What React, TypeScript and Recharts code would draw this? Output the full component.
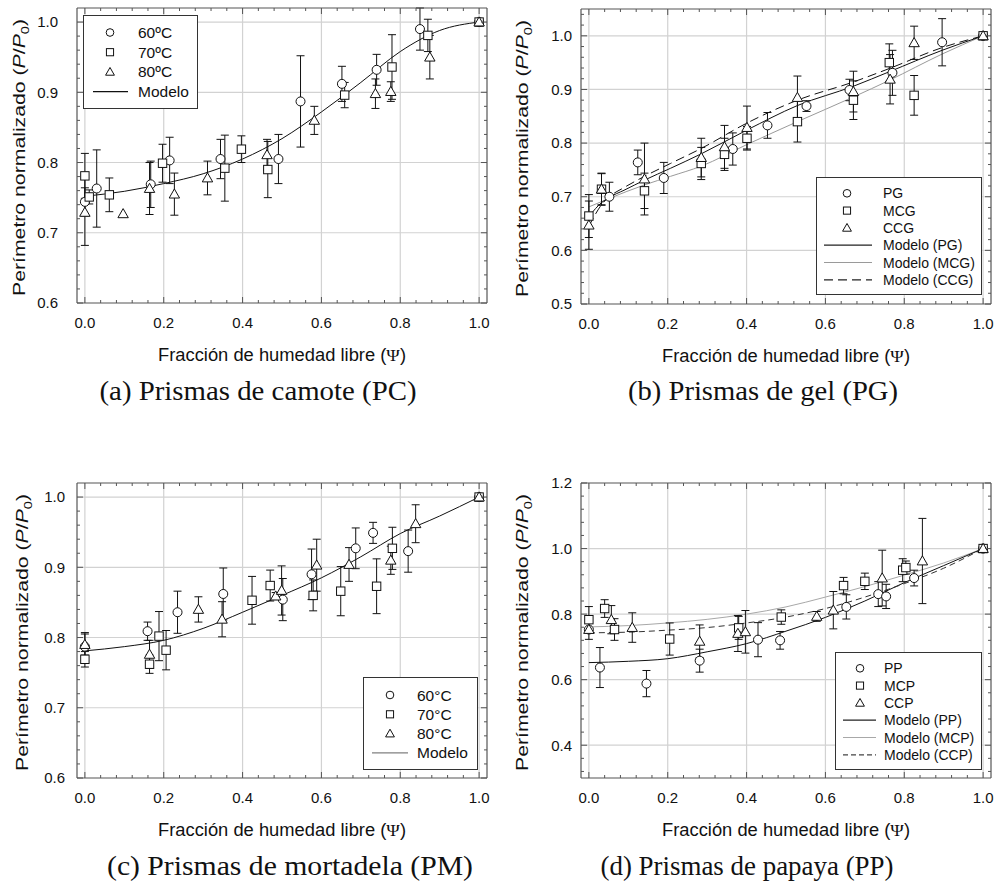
import React from 'react'
import {
  ComposedChart,
  Scatter,
  Line,
  XAxis,
  YAxis,
  CartesianGrid,
  ErrorBar,
  Legend,
  Label,
} from 'recharts'

interface Pt { x: number; y: number; e?: number }
type Mark = 'circle' | 'square' | 'triangle'

const FONT = '"Liberation Sans", Arial, Helvetica, sans-serif'
const SERIF = '"Liberation Serif", "Times New Roman", serif'
const INK = '#111'
const FRAME = '#555'
const GRID = '#d2d2d2'

// axis ticks (minor + major) and grid values
const xTicks = [0, 0.04, 0.08, 0.12, 0.16, 0.2, 0.24, 0.28, 0.32, 0.36, 0.4, 0.44, 0.48, 0.52, 0.56, 0.6, 0.64, 0.68, 0.72, 0.76, 0.8, 0.84, 0.88, 0.92, 0.96, 1.0]
const xGrid = [0, 0.2, 0.4, 0.6, 0.8, 1.0]
const yTicks06 = [0.6, 0.62, 0.64, 0.66, 0.68, 0.7, 0.72, 0.74, 0.76, 0.78, 0.8, 0.82, 0.84, 0.86, 0.88, 0.9, 0.92, 0.94, 0.96, 0.98, 1.0]
const yGrid06 = [0.7, 0.8, 0.9, 1.0]
const yTicks05 = [0.5, 0.52, 0.54, 0.56, 0.58, 0.6, 0.62, 0.64, 0.66, 0.68, 0.7, 0.72, 0.74, 0.76, 0.78, 0.8, 0.82, 0.84, 0.86, 0.88, 0.9, 0.92, 0.94, 0.96, 0.98, 1.0, 1.02, 1.04]
const yGrid05 = [0.6, 0.7, 0.8, 0.9, 1.0]
const yTicks03 = [0.32, 0.36, 0.4, 0.44, 0.48, 0.52, 0.56, 0.6, 0.64, 0.68, 0.72, 0.76, 0.8, 0.84, 0.88, 0.92, 0.96, 1.0, 1.04, 1.08, 1.12, 1.16, 1.2]
const yGrid03 = [0.4, 0.6, 0.8, 1.0]

// (a) camote
const pc60: Pt[] = [
  { x: 0, y: 0.744, e: 0.02 }, { x: 0.03, y: 0.763, e: 0.055 }, { x: 0.167, y: 0.769, e: 0.033 },
  { x: 0.215, y: 0.803, e: 0.033 }, { x: 0.344, y: 0.805, e: 0.028 }, { x: 0.491, y: 0.805, e: 0.035 },
  { x: 0.547, y: 0.887, e: 0.065 }, { x: 0.652, y: 0.912, e: 0.025 }, { x: 0.74, y: 0.932, e: 0.022 },
  { x: 0.85, y: 0.99, e: 0.03 }, { x: 1, y: 1 },
]
const pc70: Pt[] = [
  { x: 0, y: 0.781, e: 0.032 }, { x: 0.011, y: 0.751, e: 0.01 }, { x: 0.062, y: 0.754, e: 0.024 },
  { x: 0.197, y: 0.799, e: 0.027 }, { x: 0.355, y: 0.792, e: 0.047 }, { x: 0.397, y: 0.819, e: 0.019 },
  { x: 0.464, y: 0.79, e: 0.04 }, { x: 0.659, y: 0.896, e: 0.018 }, { x: 0.779, y: 0.936, e: 0.046 },
  { x: 0.87, y: 0.981, e: 0.023 }, { x: 1, y: 1 },
]
const pc80: Pt[] = [
  { x: 0, y: 0.729, e: 0.047 }, { x: 0.097, y: 0.727 }, { x: 0.164, y: 0.763, e: 0.037 },
  { x: 0.227, y: 0.755, e: 0.03 }, { x: 0.311, y: 0.778, e: 0.024 }, { x: 0.462, y: 0.811, e: 0.022 },
  { x: 0.582, y: 0.86, e: 0.02 }, { x: 0.737, y: 0.898, e: 0.021 }, { x: 0.776, y: 0.901, e: 0.014 },
  { x: 0.875, y: 0.95, e: 0.031 }, { x: 1, y: 1 },
]
const pcModel: Pt[] = [
  { x: 0, y: 0.752 }, { x: 0.1, y: 0.759 }, { x: 0.2, y: 0.77 }, { x: 0.3, y: 0.784 }, { x: 0.4, y: 0.805 },
  { x: 0.5, y: 0.834 }, { x: 0.6, y: 0.872 }, { x: 0.7, y: 0.914 }, { x: 0.8, y: 0.958 }, { x: 0.9, y: 0.988 }, { x: 1, y: 1 },
]

// (b) gel
const pgPts: Pt[] = [
  { x: 0.052, y: 0.7, e: 0.027 }, { x: 0.124, y: 0.764, e: 0.023 }, { x: 0.19, y: 0.735, e: 0.029 },
  { x: 0.365, y: 0.789, e: 0.03 }, { x: 0.453, y: 0.833, e: 0.024 }, { x: 0.552, y: 0.869, e: 0.01 },
  { x: 0.661, y: 0.899, e: 0.02 }, { x: 0.77, y: 0.931, e: 0.042 }, { x: 0.896, y: 0.988, e: 0.044 }, { x: 1, y: 1 },
]
const mcgPts: Pt[] = [
  { x: 0, y: 0.664, e: 0.04 }, { x: 0.032, y: 0.714, e: 0.03 }, { x: 0.141, y: 0.711, e: 0.033 },
  { x: 0.285, y: 0.762, e: 0.03 }, { x: 0.344, y: 0.779, e: 0.03 }, { x: 0.401, y: 0.809, e: 0.022 },
  { x: 0.529, y: 0.84, e: 0.038 }, { x: 0.671, y: 0.88, e: 0.036 }, { x: 0.762, y: 0.95, e: 0.035 },
  { x: 0.825, y: 0.889, e: 0.037 }, { x: 1, y: 1 },
]
const ccgPts: Pt[] = [
  { x: 0, y: 0.647, e: 0.045 }, { x: 0.032, y: 0.714, e: 0.029 }, { x: 0.141, y: 0.733, e: 0.067 },
  { x: 0.285, y: 0.773, e: 0.036 }, { x: 0.344, y: 0.793, e: 0.04 }, { x: 0.401, y: 0.829, e: 0.04 },
  { x: 0.529, y: 0.885, e: 0.04 }, { x: 0.671, y: 0.896, e: 0.038 }, { x: 0.764, y: 0.919, e: 0.046 },
  { x: 0.825, y: 0.987, e: 0.031 }, { x: 1, y: 1 },
]
const pgModel: Pt[] = [
  { x: 0, y: 0.663 }, { x: 0.017, y: 0.678 }, { x: 0.032, y: 0.689 }, { x: 0.052, y: 0.699 }, { x: 0.089, y: 0.712 },
  { x: 0.141, y: 0.731 }, { x: 0.207, y: 0.753 }, { x: 0.285, y: 0.78 }, { x: 0.4, y: 0.824 }, { x: 0.529, y: 0.87 },
  { x: 0.671, y: 0.906 }, { x: 0.762, y: 0.933 }, { x: 0.896, y: 0.973 }, { x: 1, y: 1 },
]
const mcgModel: Pt[] = [
  { x: 0, y: 0.681 }, { x: 0.052, y: 0.697 }, { x: 0.141, y: 0.722 }, { x: 0.207, y: 0.738 }, { x: 0.285, y: 0.757 },
  { x: 0.4, y: 0.797 }, { x: 0.529, y: 0.84 }, { x: 0.671, y: 0.886 }, { x: 0.762, y: 0.917 }, { x: 0.896, y: 0.966 }, { x: 1, y: 1 },
]
const ccgModel: Pt[] = [
  { x: 0, y: 0.645 }, { x: 0.017, y: 0.668 }, { x: 0.032, y: 0.685 }, { x: 0.052, y: 0.7 }, { x: 0.089, y: 0.717 },
  { x: 0.141, y: 0.738 }, { x: 0.207, y: 0.762 }, { x: 0.285, y: 0.79 }, { x: 0.4, y: 0.837 }, { x: 0.529, y: 0.88 },
  { x: 0.671, y: 0.914 }, { x: 0.762, y: 0.939 }, { x: 0.896, y: 0.978 }, { x: 1, y: 1 },
]

// (c) mortadela
const pm60: Pt[] = [
  { x: 0, y: 0.787, e: 0.02 }, { x: 0.159, y: 0.809, e: 0.013 }, { x: 0.235, y: 0.836, e: 0.03 },
  { x: 0.351, y: 0.862, e: 0.037 }, { x: 0.502, y: 0.854, e: 0.03 }, { x: 0.575, y: 0.89, e: 0.036 },
  { x: 0.687, y: 0.927, e: 0.029 }, { x: 0.731, y: 0.949, e: 0.015 }, { x: 0.82, y: 0.923, e: 0.03 }, { x: 1, y: 1 },
]
const pm70: Pt[] = [
  { x: 0, y: 0.769, e: 0.011 }, { x: 0.164, y: 0.762, e: 0.013 }, { x: 0.188, y: 0.802, e: 0.035 },
  { x: 0.206, y: 0.782, e: 0.028 }, { x: 0.424, y: 0.853, e: 0.034 }, { x: 0.47, y: 0.874, e: 0.022 },
  { x: 0.579, y: 0.86, e: 0.022 }, { x: 0.649, y: 0.866, e: 0.035 }, { x: 0.74, y: 0.873, e: 0.039 },
  { x: 0.78, y: 0.927, e: 0.03 }, { x: 1, y: 1 },
]
const pm80: Pt[] = [
  { x: 0, y: 0.79, e: 0.015 }, { x: 0.164, y: 0.776, e: 0.02 }, { x: 0.288, y: 0.84, e: 0.018 },
  { x: 0.348, y: 0.826, e: 0.025 }, { x: 0.484, y: 0.859, e: 0.005 }, { x: 0.499, y: 0.867, e: 0.035 },
  { x: 0.588, y: 0.903, e: 0.037 }, { x: 0.67, y: 0.904, e: 0.024 }, { x: 0.776, y: 0.91, e: 0.02 },
  { x: 0.839, y: 0.962, e: 0.027 }, { x: 1, y: 1 },
]
const pmModel: Pt[] = [
  { x: 0, y: 0.781 }, { x: 0.1, y: 0.787 }, { x: 0.2, y: 0.796 }, { x: 0.3, y: 0.813 }, { x: 0.4, y: 0.836 },
  { x: 0.5, y: 0.86 }, { x: 0.6, y: 0.885 }, { x: 0.7, y: 0.915 }, { x: 0.8, y: 0.948 }, { x: 0.9, y: 0.973 }, { x: 1, y: 1 },
]

// (d) papaya
const ppPts: Pt[] = [
  { x: 0, y: 0.753 }, { x: 0.028, y: 0.637, e: 0.061 }, { x: 0.146, y: 0.588, e: 0.04 },
  { x: 0.281, y: 0.658, e: 0.035 }, { x: 0.429, y: 0.722, e: 0.052 }, { x: 0.485, y: 0.72, e: 0.027 },
  { x: 0.653, y: 0.822, e: 0.037 }, { x: 0.734, y: 0.861, e: 0.038 }, { x: 0.754, y: 0.854, e: 0.037 },
  { x: 0.825, y: 0.91, e: 0.024 }, { x: 1, y: 1 },
]
const mcpPts: Pt[] = [
  { x: 0, y: 0.783, e: 0.04 }, { x: 0.04, y: 0.817, e: 0.027 }, { x: 0.065, y: 0.753, e: 0.033 },
  { x: 0.205, y: 0.724, e: 0.049 }, { x: 0.38, y: 0.758, e: 0.035 }, { x: 0.488, y: 0.791, e: 0.022 },
  { x: 0.646, y: 0.887, e: 0.025 }, { x: 0.7, y: 0.9, e: 0.025 }, { x: 0.796, y: 0.934, e: 0.035 },
  { x: 0.804, y: 0.942, e: 0.02 }, { x: 1, y: 1 },
]
const ccpPts: Pt[] = [
  { x: 0, y: 0.753, e: 0.03 }, { x: 0.057, y: 0.783, e: 0.043 }, { x: 0.11, y: 0.759, e: 0.045 },
  { x: 0.281, y: 0.717, e: 0.05 }, { x: 0.378, y: 0.741, e: 0.055 }, { x: 0.397, y: 0.746, e: 0.065 },
  { x: 0.578, y: 0.793, e: 0.015 }, { x: 0.62, y: 0.812, e: 0.057 }, { x: 0.744, y: 0.91, e: 0.085 },
  { x: 0.846, y: 0.962, e: 0.13 }, { x: 1, y: 1 },
]
const ppModel: Pt[] = [
  { x: 0, y: 0.652 }, { x: 0.1, y: 0.656 }, { x: 0.2, y: 0.664 }, { x: 0.3, y: 0.685 }, { x: 0.4, y: 0.71 },
  { x: 0.5, y: 0.748 }, { x: 0.6, y: 0.79 }, { x: 0.7, y: 0.84 }, { x: 0.8, y: 0.896 }, { x: 0.9, y: 0.948 }, { x: 1, y: 1 },
]
const mcpModel: Pt[] = [
  { x: 0, y: 0.761 }, { x: 0.1, y: 0.765 }, { x: 0.2, y: 0.773 }, { x: 0.3, y: 0.784 }, { x: 0.4, y: 0.8 },
  { x: 0.5, y: 0.822 }, { x: 0.6, y: 0.852 }, { x: 0.7, y: 0.884 }, { x: 0.8, y: 0.919 }, { x: 0.9, y: 0.956 }, { x: 1, y: 1 },
]
const ccpModel: Pt[] = [
  { x: 0, y: 0.743 }, { x: 0.1, y: 0.745 }, { x: 0.2, y: 0.751 }, { x: 0.3, y: 0.759 }, { x: 0.4, y: 0.773 },
  { x: 0.5, y: 0.791 }, { x: 0.6, y: 0.817 }, { x: 0.7, y: 0.852 }, { x: 0.8, y: 0.893 }, { x: 0.9, y: 0.94 }, { x: 1, y: 1 },
]

// legend labels and captions
const pcLabels = ['60ºC', '70ºC', '80ºC', 'Modelo']
const pgLabels = ['PG', 'MCG', 'CCG', 'Modelo (PG)', 'Modelo (MCG)', 'Modelo (CCG)']
const pmLabels = ['60°C', '70°C', '80°C', 'Modelo']
const ppLabels = ['PP', 'MCP', 'CCP', 'Modelo (PP)', 'Modelo (MCP)', 'Modelo (CCP)']
const captions = ['(a) Prismas de camote (PC)', '(b) Prismas de gel (PG)', '(c) Prismas de mortadela (PM)', '(d) Prismas de papaya (PP)']

const Marker = ({ kind, cx, cy, s = 1 }: { kind: Mark; cx: number; cy: number; s?: number }) => {
  if (kind === 'circle') return <circle cx={cx} cy={cy} r={4.5 * s} fill="#fff" stroke={INK} strokeWidth={1} />
  if (kind === 'square') {
    const h = 4.2 * s
    return <rect x={cx - h} y={cy - h} width={2 * h} height={2 * h} fill="#fff" stroke={INK} strokeWidth={1} />
  }
  const r = 5.2 * s
  return (
    <polygon
      points={`${cx},${cy - r} ${cx + r},${cy + r * 0.75} ${cx - r},${cy + r * 0.75}`}
      fill="#fff"
      stroke={INK}
      strokeWidth={1}
    />
  )
}

const shapes: Record<Mark, (p: any) => React.ReactElement> = {
  circle: (p: any) => <Marker kind="circle" cx={p.cx} cy={p.cy} />,
  square: (p: any) => <Marker kind="square" cx={p.cx} cy={p.cy} />,
  triangle: (p: any) => <Marker kind="triangle" cx={p.cx} cy={p.cy} />,
}

const isMajor = (v: number, step: number) => Math.abs(v / step - Math.round(v / step)) < 1e-6

type Side = 'bottom' | 'top' | 'left' | 'right'
const tickFor = (side: Side, step: number, gap = 0) => {
  const TickMark = (p: any) => {
    const v = Number(p.payload.value)
    const major = isMajor(v, step)
    const len = major ? 6 : 3
    const { x, y } = p
    const x2 = side === 'left' ? x + len : side === 'right' ? x - len : x
    const y2 = side === 'bottom' ? y - len : side === 'top' ? y + len : y
    return (
      <g>
        <line x1={x} y1={y} x2={x2} y2={y2} stroke={FRAME} strokeWidth={1} />
        {major && side === 'bottom' && (
          <text x={x} y={y + 25} textAnchor="middle" fontSize={15} fill={INK}>{v.toFixed(1)}</text>
        )}
        {major && side === 'left' && (
          <text x={x - gap} y={y} dy="0.36em" textAnchor="end" fontSize={15} fill={INK}>{v.toFixed(1)}</text>
        )}
      </g>
    )
  }
  return TickMark
}

const XTitle = (p: any) => {
  const { x, y, width } = p.viewBox
  return (
    <text x={x + width / 2} y={y + 58} textAnchor="middle" fontSize={17.5} fill={INK} textLength={248} lengthAdjust="spacingAndGlyphs">
      Fracción de humedad libre (<tspan fontFamily={SERIF}>Ψ</tspan>)
    </text>
  )
}

const yTitleFor = (off: number) => {
  const YTitle = (p: any) => {
    const { x, y, width, height } = p.viewBox
    return (
      <text
        transform={`translate(${x + width - off},${y + height / 2 + 2}) rotate(-90)`}
        textAnchor="middle"
        fontSize={16}
        fill={INK}
        textLength={277}
        lengthAdjust="spacingAndGlyphs"
      >
        Perímetro normalizado (<tspan fontStyle="italic">P</tspan>/<tspan fontStyle="italic">P</tspan>
        <tspan fontSize={11} dy={4}>0</tspan>
        <tspan dy={-4}>)</tspan>
      </text>
    )
  }
  return YTitle
}

interface LegendItem { label: string; mark?: Mark; stroke?: string; dash?: string }
interface LegendCfg {
  left: number; top: number; w: number; h: number
  y0: number; dy: number; symX: number; lx1: number; lx2: number; textX: number; fs: number
  items: LegendItem[]
}

const LegendBox = ({ lg }: { lg: LegendCfg }) => (
  <svg width={lg.w} height={lg.h} style={{ display: 'block', fontFamily: FONT }}>
    <rect x={0.5} y={0.5} width={lg.w - 1} height={lg.h - 1} fill="#fff" stroke="#333" strokeWidth={1} />
    {lg.items.map((it, i) => {
      const cy = lg.y0 + i * lg.dy
      return (
        <g key={it.label}>
          {it.mark ? (
            <Marker kind={it.mark} cx={lg.symX} cy={cy} s={0.85} />
          ) : (
            <line x1={lg.lx1} x2={lg.lx2} y1={cy} y2={cy} stroke={it.stroke} strokeWidth={1.2} strokeDasharray={it.dash} />
          )}
          <text x={lg.textX} y={cy} dy="0.36em" fontSize={lg.fs} fill={INK}>{it.label}</text>
        </g>
      )
    })}
  </svg>
)

interface SeriesCfg { data: Pt[]; mark: Mark }
interface ModelCfg { data: Pt[]; stroke: string; dash?: string }
interface PanelCfg {
  left: number; top: number
  margin: { top: number; right: number; bottom: number; left: number }
  yDomain: [number, number]; yTicks: number[]; yGrid: number[]; yStep: number
  labelGap: number; titleOff: number
  series: SeriesCfg[]; models: ModelCfg[]; legend: LegendCfg
}

const W = 499
const H = 372

// every axis gets a 1px band (Recharts skips axes of zero size); margins are 1px smaller to compensate
const Panel = ({ cfg }: { cfg: PanelCfg }) => (
  <div style={{ position: 'absolute', left: cfg.left, top: cfg.top }}>
    <ComposedChart width={W} height={H} margin={cfg.margin}>
      <CartesianGrid xAxisId="b" yAxisId="l" stroke={GRID} strokeWidth={1.2} verticalValues={xGrid} horizontalValues={cfg.yGrid} />
      {cfg.models.map((m, i) => (
        <Line
          key={'m' + i} xAxisId="b" yAxisId="l" data={m.data} dataKey="y" type="monotone"
          stroke={m.stroke} strokeWidth={1} strokeDasharray={m.dash} dot={false} activeDot={false}
          isAnimationActive={false} legendType="none"
        />
      ))}
      {cfg.series.map((s, i) => (
        <Scatter
          key={'s' + i} xAxisId="b" yAxisId="l" data={s.data} shape={shapes[s.mark]}
          isAnimationActive={false} legendType="none"
        >
          <ErrorBar dataKey="e" direction="y" width={4} stroke={INK} strokeWidth={1} isAnimationActive={false} />
        </Scatter>
      ))}
      <XAxis
        xAxisId="b" type="number" dataKey="x" domain={[-0.02, 1.02]} allowDataOverflow
        ticks={xTicks} interval={0} height={1} tickSize={0} tickMargin={0} tickLine={false}
        axisLine={{ stroke: FRAME, strokeWidth: 1.2 }} tick={tickFor('bottom', 0.2)}
      >
        <Label content={XTitle} />
      </XAxis>
      <XAxis
        xAxisId="t" orientation="top" type="number" dataKey="x" domain={[-0.02, 1.02]} allowDataOverflow
        ticks={xTicks} interval={0} height={1} tickSize={0} tickMargin={0} tickLine={false}
        axisLine={{ stroke: FRAME, strokeWidth: 1.2 }} tick={tickFor('top', 0.2)}
      />
      <YAxis
        yAxisId="l" type="number" dataKey="y" domain={cfg.yDomain} allowDataOverflow
        ticks={cfg.yTicks} interval={0} width={1} tickSize={0} tickMargin={0} tickLine={false}
        axisLine={{ stroke: FRAME, strokeWidth: 1.2 }} tick={tickFor('left', cfg.yStep, cfg.labelGap)}
      >
        <Label content={yTitleFor(cfg.titleOff)} />
      </YAxis>
      <YAxis
        yAxisId="r" orientation="right" type="number" dataKey="y" domain={cfg.yDomain} allowDataOverflow
        ticks={cfg.yTicks} interval={0} width={1} tickSize={0} tickMargin={0} tickLine={false}
        axisLine={{ stroke: FRAME, strokeWidth: 1.2 }} tick={tickFor('right', cfg.yStep)}
      />
      <Legend
        layout="vertical" align="center" verticalAlign="middle"
        wrapperStyle={{ left: cfg.legend.left, top: cfg.legend.top, width: cfg.legend.w, height: cfg.legend.h }}
        content={() => <LegendBox lg={cfg.legend} />}
      />
    </ComposedChart>
  </div>
)

const marks: Mark[] = ['circle', 'square', 'triangle']

const panels: PanelCfg[] = [
  {
    left: 0, top: 0, margin: { top: 7, right: 11, bottom: 68, left: 76 },
    yDomain: [0.6, 1.02], yTicks: yTicks06, yGrid: yGrid06, yStep: 0.1, labelGap: 19, titleOff: 52,
    series: [pc60, pc70, pc80].map((d, i) => ({ data: d, mark: marks[i] })),
    models: [{ data: pcModel, stroke: '#111' }],
    legend: {
      left: 83, top: 15, w: 115, h: 94, y0: 17.5, dy: 19.7, symX: 27, lx1: 10, lx2: 45, textX: 55, fs: 15.5,
      items: [
        { label: pcLabels[0], mark: 'circle' }, { label: pcLabels[1], mark: 'square' },
        { label: pcLabels[2], mark: 'triangle' }, { label: pcLabels[3], stroke: '#111' },
      ],
    },
  },
  {
    left: 499, top: 0, margin: { top: 8, right: 6, bottom: 67, left: 81 },
    yDomain: [0.5, 1.05], yTicks: yTicks05, yGrid: yGrid05, yStep: 0.1, labelGap: 9, titleOff: 53,
    series: [pgPts, mcgPts, ccgPts].map((d, i) => ({ data: d, mark: marks[i] })),
    models: [
      { data: mcgModel, stroke: '#9a9a9a' },
      { data: pgModel, stroke: '#111' },
      { data: ccgModel, stroke: '#111', dash: '9 5' },
    ],
    legend: {
      left: 317, top: 177, w: 166, h: 118, y0: 16.3, dy: 17.3, symX: 31, lx1: 8, lx2: 56, textX: 67, fs: 14,
      items: [
        { label: pgLabels[0], mark: 'circle' }, { label: pgLabels[1], mark: 'square' },
        { label: pgLabels[2], mark: 'triangle' }, { label: pgLabels[3], stroke: '#222' },
        { label: pgLabels[4], stroke: '#9a9a9a' }, { label: pgLabels[5], stroke: '#222', dash: '9 5' },
      ],
    },
  },
  {
    left: 0, top: 475, margin: { top: 7, right: 11, bottom: 68, left: 76 },
    yDomain: [0.6, 1.02], yTicks: yTicks06, yGrid: yGrid06, yStep: 0.1, labelGap: 12, titleOff: 49,
    series: [pm60, pm70, pm80].map((d, i) => ({ data: d, mark: marks[i] })),
    models: [{ data: pmModel, stroke: '#111' }],
    legend: {
      left: 363, top: 202, w: 115, h: 93, y0: 18, dy: 19.3, symX: 27, lx1: 9, lx2: 45, textX: 54, fs: 15.5,
      items: [
        { label: pmLabels[0], mark: 'circle' }, { label: pmLabels[1], mark: 'square' },
        { label: pmLabels[2], mark: 'triangle' }, { label: pmLabels[3], stroke: '#808080' },
      ],
    },
  },
  {
    left: 499, top: 475, margin: { top: 7, right: 6, bottom: 68, left: 81 },
    yDomain: [0.3, 1.2], yTicks: yTicks03, yGrid: yGrid03, yStep: 0.2, labelGap: 9, titleOff: 53,
    series: [ppPts, mcpPts, ccpPts].map((d, i) => ({ data: d, mark: marks[i] })),
    models: [
      { data: mcpModel, stroke: '#a8a8a8' },
      { data: ppModel, stroke: '#111' },
      { data: ccpModel, stroke: '#333', dash: '6 4' },
    ],
    legend: {
      left: 336, top: 177, w: 147, h: 118, y0: 16.3, dy: 17.3, symX: 25, lx1: 8, lx2: 41, textX: 49, fs: 14,
      items: [
        { label: ppLabels[0], mark: 'circle' }, { label: ppLabels[1], mark: 'square' },
        { label: ppLabels[2], mark: 'triangle' }, { label: ppLabels[3], stroke: '#222' },
        { label: ppLabels[4], stroke: '#a8a8a8' }, { label: ppLabels[5], stroke: '#444', dash: '5 3' },
      ],
    },
  },
]

// caption placement: centre x, baseline y, measured width
const captionPos = [
  { cx: 258, y: 400, w: 317 },
  { cx: 763, y: 400, w: 270 },
  { cx: 290, y: 875, w: 366 },
  { cx: 747, y: 875, w: 293 },
]

export default function App() {
  return (
    <div style={{ position: 'absolute', left: 0, top: 0, width: 998, height: 886, background: '#fff', fontFamily: FONT, overflow: 'hidden' }}>
      {panels.map((p, i) => (
        <Panel key={i} cfg={p} />
      ))}
      <svg width={998} height={886} style={{ position: 'absolute', left: 0, top: 0, pointerEvents: 'none' }}>
        {captions.map((c, i) => (
          <text
            key={c} x={captionPos[i].cx} y={captionPos[i].y} textAnchor="middle" fontFamily={SERIF}
            fontSize={28} fill={INK} textLength={captionPos[i].w} lengthAdjust="spacingAndGlyphs"
          >
            {c}
          </text>
        ))}
      </svg>
    </div>
  )
}
